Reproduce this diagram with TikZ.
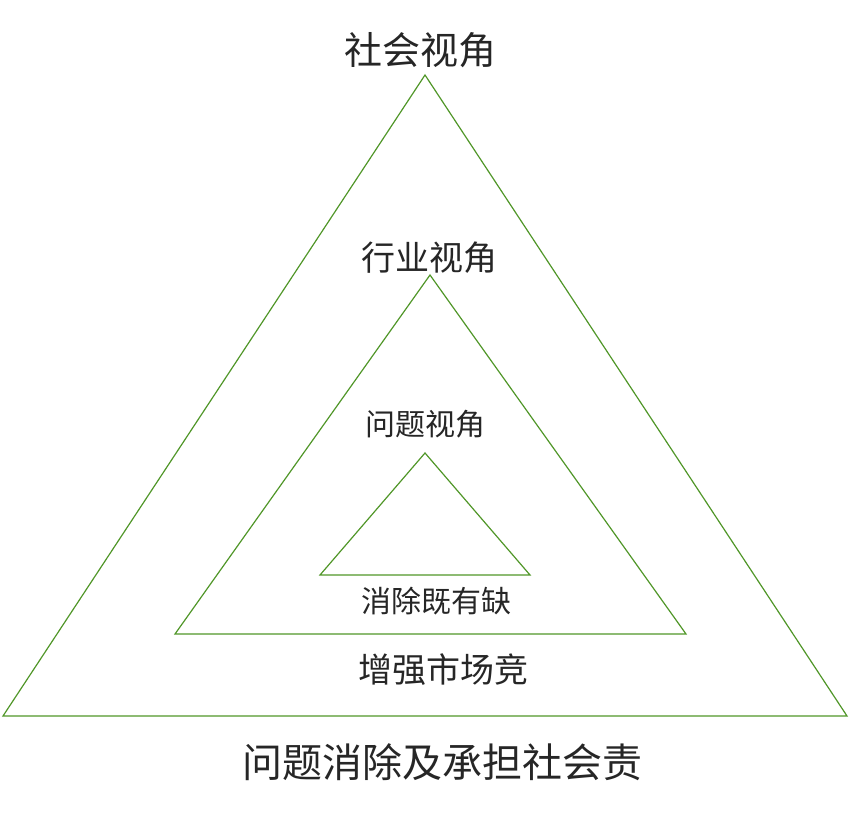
\documentclass[tikz,border=0pt]{standalone}
\usepackage{fontspec}
\newfontfamily\cjk{Noto Sans CJK SC}
\begin{document}
\begin{tikzpicture}[x=1pt,y=-1pt,
  tri/.style={draw={rgb,255:red,80;green,150;blue,40},line width=1.2pt,line join=miter},
  lab/.style={font=\cjk,inner sep=0pt,text=black!85}]
\useasboundingbox (0,0) rectangle (850,818);
\draw[tri] (425,75) -- (847,716) -- (3,716) -- cycle;
\draw[tri] (430,275) -- (686,634) -- (175,634) -- cycle;
\draw[tri] (425,453) -- (530,575) -- (320,575) -- cycle;
\node[lab,font=\cjk\fontsize{38}{40}\selectfont] (t1) at (420,50) {社会视角};
\node[lab,font=\cjk\fontsize{34}{36}\selectfont] (t2) at (429,258) {行业视角};
\node[lab,font=\cjk\fontsize{30}{32}\selectfont] (t3) at (425,424) {问题视角};
\node[lab,font=\cjk\fontsize{30}{32}\selectfont] (t4) at (436,601) {消除既有缺};
\node[lab,font=\cjk\fontsize{34}{36}\selectfont] (t5) at (443,670) {增强市场竞};
\node[lab,font=\cjk\fontsize{40}{42}\selectfont] (t6) at (442,762) {问题消除及承担社会责};
\end{tikzpicture}
\end{document}
